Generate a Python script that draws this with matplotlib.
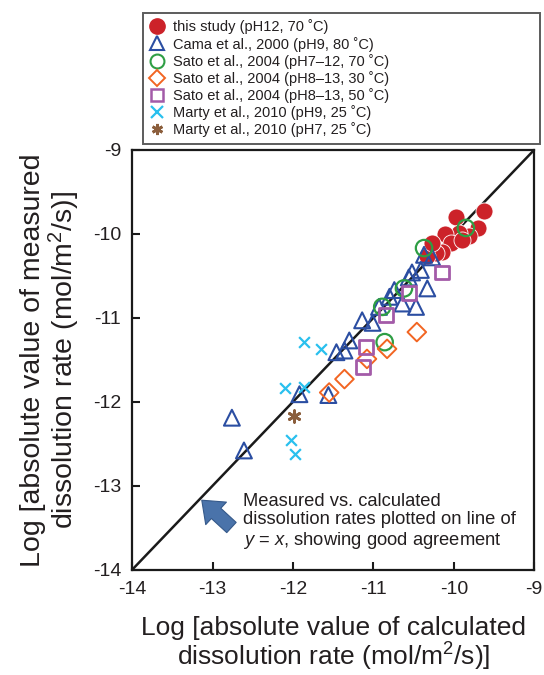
import matplotlib.pyplot as plt
from matplotlib.lines import Line2D

plt.rcParams['font.family'] = ['Liberation Sans', 'DejaVu Sans']
plt.rcParams['mathtext.fontset'] = 'custom'
plt.rcParams['mathtext.it'] = 'Liberation Sans:italic'
plt.rcParams['mathtext.rm'] = 'Liberation Sans'
txt = '#231f20'

# this study (pH12, 70 C)
study_x = [-9.63, -9.97, -9.70, -9.81, -9.94, -10.11, -10.03, -9.90, -10.15, -10.22, -10.33, -10.27]
study_y = [-9.73, -9.80, -9.93, -10.03, -9.99, -10.00, -10.11, -10.07, -10.22, -10.23, -10.26, -10.11]

# Cama et al., 2000 (pH9, 80 C)
cama_x = [-12.76, -12.61, -11.92, -11.56, -11.46, -11.36, -11.30, -11.14, -11.01, -10.93,
          -10.80, -10.74, -10.64, -10.47, -10.33, -10.56, -10.52, -10.41, -10.37, -10.27]
cama_y = [-12.19, -12.58, -11.91, -11.92, -11.41, -11.39, -11.27, -11.03, -11.06, -10.87,
          -10.75, -10.67, -10.83, -10.87, -10.65, -10.52, -10.46, -10.43, -10.25, -10.28]

# Sato et al., 2004
sato70_x = [-9.85, -10.37, -10.62, -10.89, -10.86]
sato70_y = [-9.93, -10.17, -10.65, -10.87, -11.29]
sato30_x = [-10.46, -10.83, -11.08, -11.36, -11.55]
sato30_y = [-11.17, -11.37, -11.49, -11.73, -11.89]
sato50_x = [-10.15, -10.56, -10.84, -11.09, -11.13]
sato50_y = [-10.46, -10.71, -10.97, -11.35, -11.59]

# Marty et al., 2010
marty9_x = [-11.86, -11.65, -12.10, -11.86, -12.02, -11.98]
marty9_y = [-11.29, -11.37, -11.84, -11.82, -12.46, -12.62]
marty7_x = [-11.99]
marty7_y = [-12.17]

labels = ['this study (pH12, 70 \u02daC)',
          'Cama et al., 2000 (pH9, 80 \u02daC)',
          'Sato et al., 2004 (pH7\u201312, 70 \u02daC)',
          'Sato et al., 2004 (pH8\u201313, 30 \u02daC)',
          'Sato et al., 2004 (pH8\u201313, 50 \u02daC)',
          'Marty et al., 2010 (pH9, 25 \u02daC)',
          'Marty et al., 2010 (pH7, 25 \u02daC)']

red = '#cc2229'
blue = '#2b4ea2'
green = '#2e9e44'
orange = '#f26522'
purple = '#a35ba8'
cyan = '#29c0ee'
brown = '#8b5e3c'

fig = plt.figure(figsize=(5.44, 6.75), dpi=100)
ax = fig.add_axes([0.243, 0.156, 0.739, 0.622])

# y = x line
ax.plot([-14, -9], [-14, -9], color='#1a1a1a', lw=1.8, zorder=1)

ax.scatter(study_x, study_y, s=150, marker='o', color=red, edgecolors='white', linewidths=0.6, zorder=2)
ax.scatter(cama_x, cama_y, s=130, marker='^', facecolors='none', edgecolors=blue, linewidths=1.5, zorder=3)
ax.scatter(sato70_x, sato70_y, s=140, marker='o', facecolors='none', edgecolors=green, linewidths=1.6, zorder=4)
ax.scatter(sato30_x, sato30_y, s=90, marker='D', facecolors='none', edgecolors=orange, linewidths=1.4, zorder=4)
ax.scatter(sato50_x, sato50_y, s=100, marker='s', facecolors='none', edgecolors=purple, linewidths=2.0, zorder=4)
ax.scatter(marty9_x, marty9_y, s=60, marker='x', color=cyan, linewidths=1.6, zorder=4)
ax.scatter(marty7_x, marty7_y, s=70, marker=(6, 2, 0), color=brown, linewidths=2.0, zorder=4)

ax.set_xlim(-14, -9)
ax.set_ylim(-14, -9)
ax.set_xticks([-14, -13, -12, -11, -10, -9])
ax.set_yticks([-14, -13, -12, -11, -10, -9])
ax.set_xticklabels(['-14', '-13', '-12', '-11', '-10', '-9'])
ax.set_yticklabels(['-14', '-13', '-12', '-11', '-10', '-9'])
ax.tick_params(direction='in', length=6, width=1.5, labelsize=14, colors='#1a1a1a',
               labelcolor=txt, pad=8)
for s in ax.spines.values():
    s.set_linewidth(1.6)
    s.set_color('#1a1a1a')

ax.set_xlabel('Log [absolute value of calculated\ndissolution rate (mol/m$^2$/s)]',
              fontsize=19, color=txt, labelpad=13, linespacing=1.02)
ax.set_ylabel('Log [absolute value of measured\ndissolution rate (mol/m$^2$/s)]',
              fontsize=20.5, color=txt, labelpad=8, linespacing=1.0)

# annotation arrow
ax.annotate('', xy=(-13.16, -13.15), xytext=(-12.74, -13.52),
            arrowprops=dict(arrowstyle='simple,head_width=2.2,head_length=1.4,tail_width=1.0',
                            mutation_scale=10, facecolor='#4a73aa', edgecolor='#35598a', lw=0.8))
ax.text(-12.62, -13.43, 'Measured vs. calculated\ndissolution rates plotted on line of\n'
        '$y$ = $x$, showing good agreement',
        fontsize=13.2, color=txt, va='center', ha='left', linespacing=1.12)

# legend
handles = [
    Line2D([], [], ls='none', marker='o', ms=11, color=red, mec=red),
    Line2D([], [], ls='none', marker='^', ms=10, mfc='none', mec=blue, mew=1.5),
    Line2D([], [], ls='none', marker='o', ms=10, mfc='none', mec=green, mew=1.5),
    Line2D([], [], ls='none', marker='D', ms=8, mfc='none', mec=orange, mew=1.4),
    Line2D([], [], ls='none', marker='s', ms=9, mfc='none', mec=purple, mew=1.8),
    Line2D([], [], ls='none', marker='x', ms=8, color=cyan, mew=1.6),
    Line2D([], [], ls='none', marker=(6, 2, 0), ms=8, color=brown, mew=2.0),
]
leg = fig.legend(handles, labels, loc='upper left', bbox_to_anchor=(0.263, 0.796, 0.73, 0.185),
                 mode='expand', fontsize=10.5, frameon=True, fancybox=False, handlelength=1.0,
                 handletextpad=0.6, labelspacing=0.15, borderpad=0.45, borderaxespad=0)
leg.get_frame().set_edgecolor('#333333')
leg.get_frame().set_linewidth(1.4)
for t in leg.get_texts():
    t.set_color(txt)

fig.savefig('out.png', dpi=100)
